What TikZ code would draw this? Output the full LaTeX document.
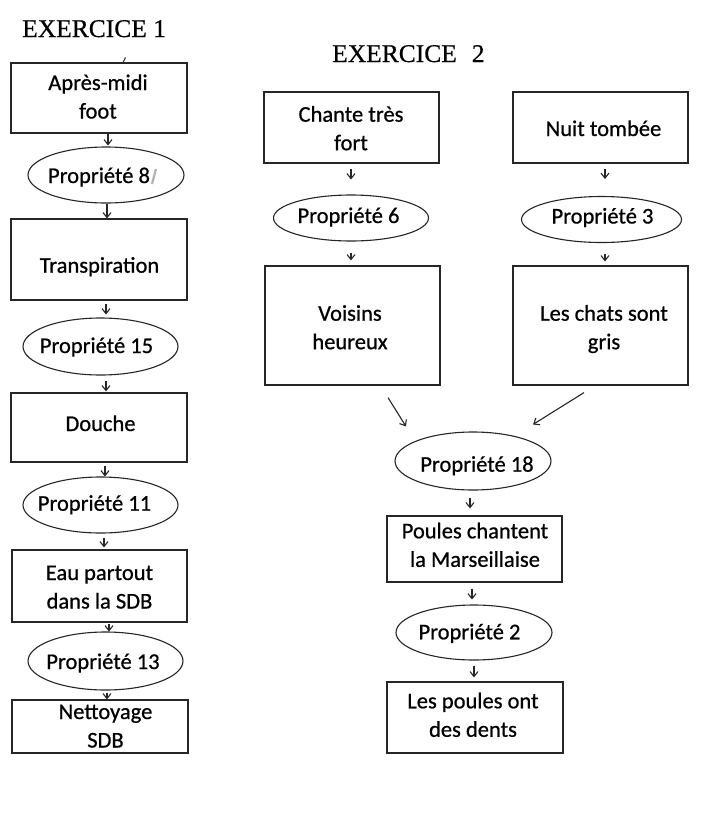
\documentclass[tikz,border=0pt]{standalone}
\usepackage{fontspec}
\newfontfamily\bodyfont[FakeBold=0.7]{Carlito}
\newfontfamily\titlefont[FakeBold=0.5]{Liberation Serif}
\usetikzlibrary{arrows.meta,shapes.geometric}
\newcommand\twol[2]{\begin{tabular}[t]{@{}c@{}}#1\\#2\end{tabular}}
\begin{document}
\begin{tikzpicture}[x=1pt,y=-1pt,
  bx/.style={rectangle, draw=black!85, line width=1.2pt, inner sep=0pt},
  ell/.style={ellipse, draw=black!85, line width=1.1pt, inner sep=0pt},
  lab/.style={font=\bodyfont\fontsize{22.5}{28.5}\selectfont, anchor=base, inner sep=0pt},
  ttl/.style={font=\titlefont\fontsize{25.5}{30}\selectfont, anchor=base west, inner sep=0pt},
  arr/.style={-{Straight Barb[length=5pt,width=8pt]}, line width=1.1pt, black!85}]
\path[use as bounding box, fill=white] (0,0) rectangle (712,823);

% Titles
\node[ttl] (t1) at (22,37) {EXERCICE 1};
\node[ttl] (t2) at (332,62) {EXERCICE\hspace{15pt}2};

% ---------- Exercice 1 ----------
\node[bx, minimum width=176, minimum height=70] (b1) at (99,98) {};
\node[lab] (l1) at (98,90) {\twol{Après-midi}{foot}};
\node[ell, minimum width=156, minimum height=56] (e8) at (106,175) {};
\node[lab] (le8) at (99,183) {Propriété 8};
\node[bx, minimum width=176, minimum height=81] (b2) at (99,259.5) {};
\node[lab] (l2) at (99.5,272.7) {Transpiration};
\node[ell, minimum width=155, minimum height=57] (e15) at (100.5,346.5) {};
\node[lab] (le15) at (96.5,353) {Propriété 15};
\node[bx, minimum width=176, minimum height=69] (b3) at (99,427.5) {};
\node[lab] (l3) at (100.5,431) {Douche};
\node[ell, minimum width=155, minimum height=56] (e11) at (100.5,505) {};
\node[lab] (le11) at (94.5,510.7) {Propriété 11};
\node[bx, minimum width=175, minimum height=72] (b4) at (99.5,586) {};
\node[lab] (l4) at (99.5,580) {\twol{Eau partout}{dans la SDB}};
\node[ell, minimum width=155, minimum height=58] (e13) at (105.5,661) {};
\node[lab] (le13) at (103,669) {Propriété 13};
\node[bx, minimum width=176, minimum height=53] (b5) at (100,726.5) {};
\node[lab] (l5) at (105.5,719) {\twol{Nettoyage}{SDB}};

% small marks
\draw[line width=1pt, black!85] ([xshift=24pt]b1.north) -- ++(2.5,-5);
\draw[line width=2.2pt, black!30] ([xshift=46pt,yshift=-9pt]e8.center) -- ++(4,-15);

\draw[arr] ([xshift=9pt]b1.south) -- ([xshift=2pt,yshift=1pt]e8.north);
\draw[arr] ([xshift=1pt]e8.south) -- ([xshift=8pt]b2.north);
\draw[arr, shorten <=3pt, shorten >=3pt] ([xshift=7pt]b2.south) -- ([xshift=5.5pt]e15.north);
\draw[arr, shorten <=5pt, shorten >=1pt] ([xshift=5.5pt]e15.south) -- ([xshift=7pt]b3.north);
\draw[arr, shorten <=3pt] ([xshift=6pt]b3.south) -- ([xshift=4.5pt]e11.north);
\draw[arr, shorten <=4pt, shorten >=2pt] ([xshift=3.5pt]e11.south) -- ([xshift=4.5pt]b4.north);
\draw[arr, shorten <=1pt] ([xshift=9.5pt]b4.south) -- ([xshift=3.5pt]e13.north);
\draw[arr, shorten <=2pt] ([xshift=1.5pt]e13.south) -- ([xshift=7pt]b5.north);

% ---------- Exercice 2 ----------
\node[bx, minimum width=175, minimum height=71] (c1) at (351.5,127.5) {};
\node[lab] (lc1) at (351,121.7) {\twol{Chante très}{fort}};
\node[bx, minimum width=175, minimum height=71] (n1) at (600.5,127.5) {};
\node[lab] (ln1) at (603.5,136) {Nuit tombée};
\node[ell, minimum width=155, minimum height=46] (e6) at (351,218) {};
\node[lab] (le6) at (348.5,223) {Propriété 6};
\node[ell, minimum width=160, minimum height=46] (e3) at (601.5,219.5) {};
\node[lab] (le3) at (602.5,223.5) {Propriété 3};
\node[bx, minimum width=175, minimum height=119] (v) at (352.5,325.5) {};
\node[lab] (lv) at (350,320.7) {\twol{Voisins}{heureux}};
\node[bx, minimum width=175, minimum height=119] (g) at (600.5,325.5) {};
\node[lab] (lg) at (604,320.7) {\twol{Les chats sont}{gris}};
\node[ell, minimum width=156, minimum height=58] (e18) at (473,461) {};
\node[lab] (le18) at (477,471.7) {Propriété 18};
\node[bx, minimum width=175, minimum height=66] (p) at (474.5,549) {};
\node[lab] (lp) at (475,538.3) {\twol{Poules chantent}{la Marseillaise}};
\node[ell, minimum width=156, minimum height=55] (e2) at (474,632.5) {};
\node[lab] (le2) at (469.5,639.3) {Propriété 2};
\node[bx, minimum width=176, minimum height=71] (d) at (475,717.5) {};
\node[lab] (ld) at (473,708.3) {\twol{Les poules ont}{des dents}};

\draw[arr, shorten <=5pt, shorten >=15pt] ([xshift=-0.5pt]c1.south) -- (e6.north);
\draw[arr, shorten <=5pt, shorten >=17pt] ([xshift=4.5pt]n1.south) -- ([xshift=3.5pt]e3.north);
\draw[arr, shorten <=11pt, shorten >=5pt] (e6.south) -- ([xshift=-1.5pt]v.north);
\draw[arr, shorten <=11pt, shorten >=4pt] ([xshift=3.5pt]e3.south) -- ([xshift=4.5pt]g.north);
\draw[arr] ([xshift=35.5pt,yshift=-12pt]v.south) -- ([xshift=-67pt,yshift=5pt]e18.north);
\draw[arr] ([xshift=-16.5pt,yshift=-7pt]g.south) -- ([xshift=60pt,yshift=7pt]e18.north);
\draw[arr, shorten <=7pt, shorten >=7pt] ([xshift=-3pt]e18.south) -- ([xshift=-4.5pt]p.north);
\draw[arr, shorten <=6pt, shorten >=5pt] ([xshift=-2.5pt]p.south) -- ([xshift=-2pt]e2.north);
\draw[arr, shorten <=5pt, shorten >=4pt] (e2.south) -- ([xshift=-1pt]d.north);
\end{tikzpicture}
\end{document}
